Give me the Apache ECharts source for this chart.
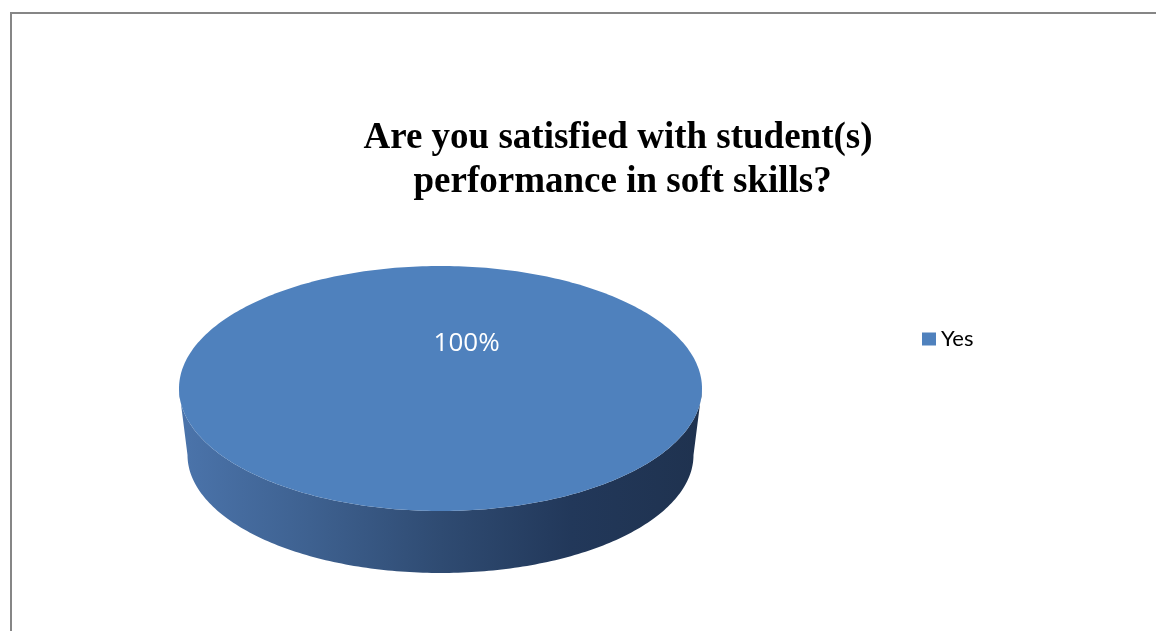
<!DOCTYPE html>
<html>
<head>
<meta charset="utf-8">
<script src="https://cdn.jsdelivr.net/npm/echarts@6/dist/echarts.min.js"></script>
<style>
  html, body { margin: 0; padding: 0; background: #fff; }
  #main { width: 1156px; height: 631px; }
</style>
</head>
<body>
<div id="main"></div>
<script>
// chart data
var titleText = 'Are you satisfied with student(s)\n performance in soft skills?';
var categories = ['Yes'];
var values = [100];
var colors = ['#4f81bd'];

// 3d pie layout (top ellipse, wall depth, bottom ellipse slightly smaller)
var pie = { cx: 440.5, cy: 388.5, rx: 261.5, ry: 122.5, depth: 66.5, rxb: 253, ryb: 118 };

var total = values.reduce(function (a, b) { return a + b; }, 0);

var arcPts = function (a0, a1, rx, ry, dy) {
  var pts = [];
  var n = Math.max(2, Math.ceil((a1 - a0) / (Math.PI / 180)));
  for (var i = 0; i <= n; i++) {
    var a = a0 + (a1 - a0) * i / n;
    pts.push([pie.cx + rx * Math.cos(a), pie.cy + dy + ry * Math.sin(a)]);
  }
  return pts;
};

var renderSlice = function (params, api) {
  var idx = params.dataIndex;
  var v = api.value(0);
  var before = 0;
  for (var i = 0; i < idx; i++) before += values[i];
  var a0 = -Math.PI / 2 + before / total * Math.PI * 2;
  var a1 = a0 + v / total * Math.PI * 2;
  var full = (a1 - a0) >= Math.PI * 2 - 1e-6;

  var children = [];

  // front wall: visible where sin > 0
  var ranges = [[0, Math.PI], [Math.PI * 2, Math.PI * 3]];
  ranges.forEach(function (r) {
    var s = Math.max(a0, r[0]), e = Math.min(a1, r[1]);
    if (e <= s) return;
    var top = arcPts(s, e, pie.rx, pie.ry, 0);
    var bot = arcPts(s, e, pie.rxb, pie.ryb, pie.depth).reverse();
    children.push({
      type: 'polygon',
      shape: { points: top.concat(bot) },
      style: {
        fill: new echarts.graphic.LinearGradient(0, 0, 1, 0, [
          { offset: 0, color: '#4b74ab' },
          { offset: 0.25, color: '#3e6190' },
          { offset: 0.5, color: '#2f4b72' },
          { offset: 0.75, color: '#22385a' },
          { offset: 1, color: '#1f324f' }
        ])
      }
    });
  });

  var topPts = arcPts(a0, a1, pie.rx, pie.ry, 0);
  if (!full) topPts.unshift([pie.cx, pie.cy]);
  children.push({
    type: 'polygon',
    shape: { points: topPts },
    style: { fill: colors[idx % colors.length] }
  });

  children.push({
    type: 'text',
    x: pie.cx + 0.1 * pie.rx,
    y: pie.cy - 0.37 * pie.ry,
    style: {
      text: Math.round(v / total * 100) + '%',
      fill: '#ffffff',
      font: '26px "Open Sans", sans-serif',
      align: 'center',
      verticalAlign: 'middle'
    }
  });

  return { type: 'group', children: children };
};

var chart = echarts.init(document.getElementById('main'));
chart.setOption({
  animation: false,
  title: {
    text: titleText,
    left: 613,
    top: 111,
    textAlign: 'center',
    textStyle: {
      fontFamily: '"Liberation Serif", "Times New Roman", serif',
      fontWeight: 'bold',
      fontSize: 37,
      lineHeight: 44,
      color: '#000'
    }
  },
  legend: {
    data: categories,
    left: 917,
    top: 323,
    icon: 'rect',
    itemWidth: 14,
    itemHeight: 13,
    itemGap: 8,
    textStyle: { fontFamily: 'Lato, "Open Sans", sans-serif', fontSize: 22, color: '#000' }
  },
  graphic: [
    { type: 'line', shape: { x1: 10, y1: 13, x2: 1156, y2: 13 }, style: { stroke: '#868686', lineWidth: 2 } },
    { type: 'line', shape: { x1: 11, y1: 13, x2: 11, y2: 631 }, style: { stroke: '#868686', lineWidth: 2 } }
  ],
  series: [{
    name: categories[0],
    type: 'custom',
    coordinateSystem: 'none',
    itemStyle: { color: colors[0] },
    renderItem: renderSlice,
    data: values.map(function (v, i) { return { name: categories[i], value: [v] }; })
  }]
});
</script>
</body>
</html>
